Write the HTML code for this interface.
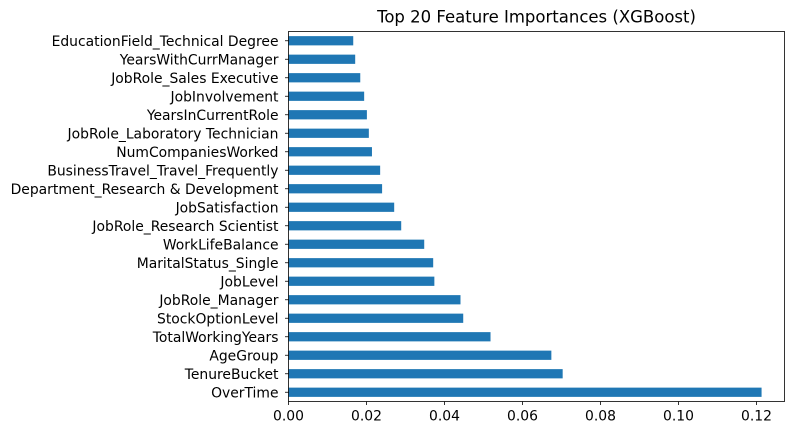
<!DOCTYPE html>
<html><head><meta charset="utf-8"><style>
body{margin:0;background:#fff}
svg text{font-family:"DejaVu Sans","Liberation Sans",sans-serif;fill:#000}
</style></head><body>
<svg id="chart" width="793" height="435" xmlns="http://www.w3.org/2000/svg"></svg>
<script>
const categories=["EducationField_Technical Degree","YearsWithCurrManager","JobRole_Sales Executive","JobInvolvement","YearsInCurrentRole","JobRole_Laboratory Technician","NumCompaniesWorked","BusinessTravel_Travel_Frequently","Department_Research & Development","JobSatisfaction","JobRole_Research Scientist","WorkLifeBalance","MaritalStatus_Single","JobLevel","JobRole_Manager","StockOptionLevel","TotalWorkingYears","AgeGroup","TenureBucket","OverTime"];
const values=[0.0166,0.0171,0.0184,0.0194,0.0201,0.0206,0.0214,0.0235,0.0240,0.0271,0.0289,0.0348,0.0371,0.0374,0.0441,0.0448,0.0518,0.0674,0.0703,0.1213];
const xTicks=[0,0.02,0.04,0.06,0.08,0.10,0.12];
const xTickLabels=["0.00","0.02","0.04","0.06","0.08","0.10","0.12"];
const NS="http://www.w3.org/2000/svg";
const svg=document.getElementById('chart');
const L=288.5,R=784.5,T=31.5,B=401.5;
const x=v=>L+v/0.12*(756.5-L);
const n=categories.length;
const band=(B-T)/n;
const y=i=>T+band*(i+0.5);
function mk(t,a){const e=document.createElementNS(NS,t);for(const k in a)e.setAttribute(k,a[k]);svg.appendChild(e);return e;}
categories.forEach((c,i)=>{
  const r=mk('rect',{x:L,y:y(i)-band*0.25,width:x(values[i])-L,height:band*0.5,fill:'#1f77b4'});
  
  
  const tk=mk('line',{x1:L-3.5,x2:L,y1:y(i),y2:y(i),stroke:'#000','stroke-width':0.8});
  
  
  const t=mk('text',{x:L-10,y:y(i)+5,'text-anchor':'end','font-size':'13.9px'});
  t.textContent=c;
  
  
});
xTicks.forEach((v,i)=>{
  const tk=mk('line',{x1:x(v),x2:x(v),y1:B,y2:B+3.5,stroke:'#000','stroke-width':0.8});
  
  
  const t=mk('text',{x:x(v),y:B+19,'text-anchor':'middle','font-size':'13.9px'});
  t.textContent=xTickLabels[i];
  
  
});
const fr=mk('rect',{x:L,y:T,width:R-L,height:B-T,fill:'none',stroke:'#000','stroke-width':0.8});


const ti=mk('text',{x:(L+R)/2,y:T-9,'text-anchor':'middle','font-size':'16.5px'});
ti.textContent='Top 20 Feature Importances (XGBoost)';


</script>
</body></html>
